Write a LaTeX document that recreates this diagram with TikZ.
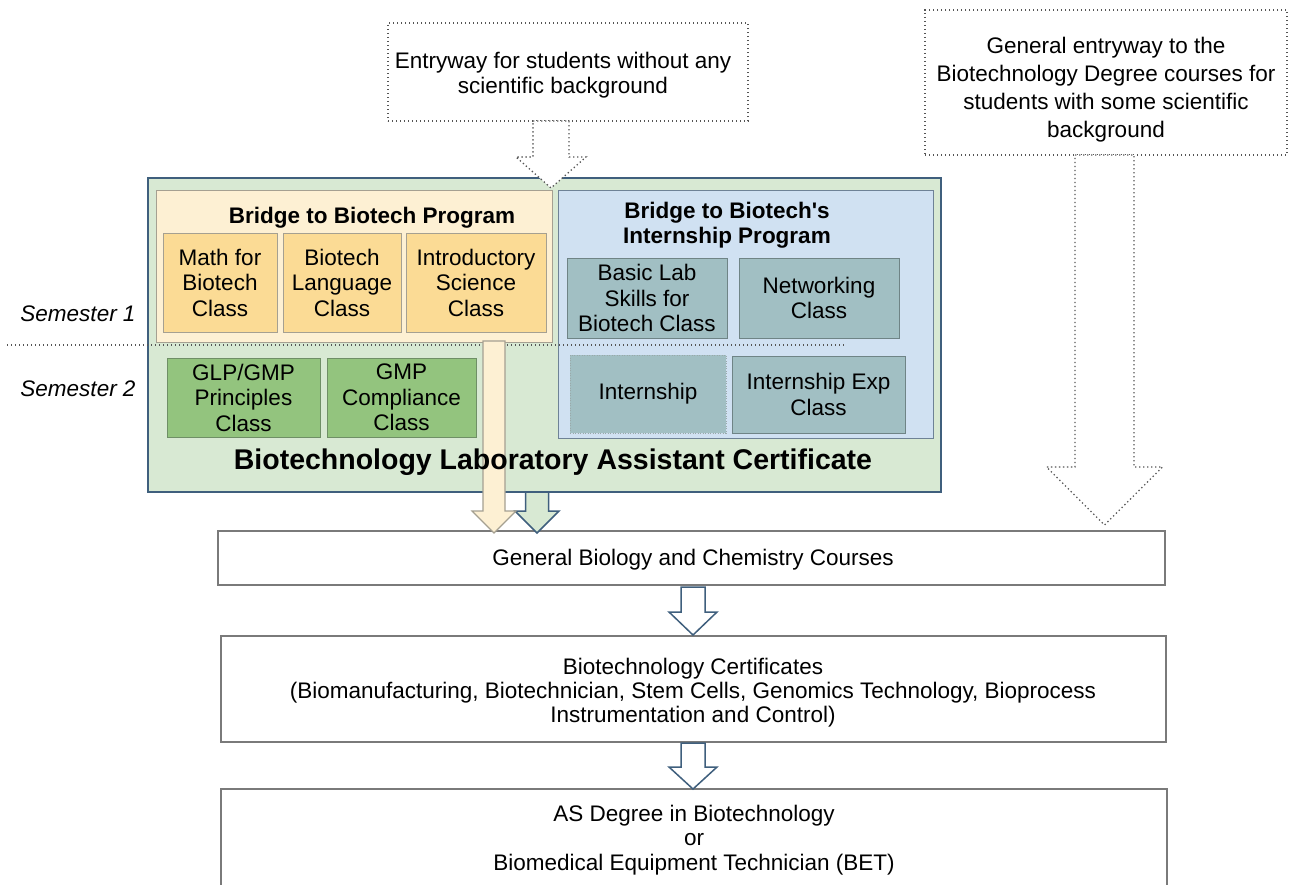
\documentclass[tikz,border=0pt]{standalone}
\usepackage{fontspec}
\setmainfont{Liberation Sans}[Ligatures=TeXOff]

\definecolor{certfill}{HTML}{D8E9D3}
\definecolor{certline}{HTML}{3F5F7D}
\definecolor{bridgefill}{HTML}{FDF0D3}
\definecolor{bridgeline}{HTML}{A5A091}
\definecolor{classyel}{HTML}{FBDB95}
\definecolor{internfill}{HTML}{D0E1F2}
\definecolor{internline}{HTML}{6E8296}
\definecolor{tealcls}{HTML}{A1BFC3}
\definecolor{tealline}{HTML}{6F8486}
\definecolor{grncls}{HTML}{93C47E}
\definecolor{grnline}{HTML}{6F8F66}
\definecolor{boxline}{HTML}{7A7A7A}
\definecolor{dotline}{HTML}{555555}

% block arrow: [style]{centre x}{top y}{neck y}{tip y}{shaft half width}{head half width}
\newcommand\blkarrow[7][]{%
  \draw[#1] ({#2-#6},#3) -- ({#2+#6},#3) -- ({#2+#6},#4) -- ({#2+#7},#4)
    -- (#2,#5) -- ({#2-#7},#4) -- ({#2-#6},#4) -- cycle;}

% rectangle node from its corners: [style]{name}{x1}{y1}{x2}{y2}{text}
\newcommand\cornerbox[7][]{%
  \node[#1, minimum width={(#5-#3)*1pt}, minimum height={(#6-#4)*1pt}]
    (#2) at ({(#3+#5)/2},{(#4+#6)/2}) {#7};}

\begin{document}
\begin{tikzpicture}[x=1pt,y=-1pt,
  every node/.style={font=\fontsize{22.5}{25.5}\selectfont, align=center, inner sep=0pt, outer sep=0pt},
  dotbox/.style={draw=dotline, line width=1.3pt, dash pattern=on 1.3pt off 2.7pt, fill=white},
  course/.style={draw=boxline, line width=1.5pt, fill=white},
  cert/.style={draw=certline, line width=1.6pt, fill=certfill},
  bridge/.style={draw=bridgeline, line width=1pt, fill=bridgefill},
  yelcls/.style={draw=bridgeline, line width=1pt, fill=classyel},
  intern/.style={draw=internline, line width=1pt, fill=internfill},
  tealbox/.style={draw=tealline, line width=1pt, fill=tealcls},
  grnbox/.style={draw=grnline, line width=1pt, fill=grncls},
  title/.style={font=\fontsize{22.5}{25.5}\selectfont\bfseries},
  semlabel/.style={font=\fontsize{22.5}{25.5}\selectfont\itshape},
  whitearrow/.style={draw=certline, line width=1.5pt, fill=white, line join=miter},
  dotarrow/.style={draw=dotline, line width=1.3pt, dash pattern=on 1.3pt off 2.7pt, fill=white},
]
\clip (0,0) rectangle (1289,884);
\useasboundingbox (0,0) rectangle (1289,884);

% entryway boxes
\cornerbox[dotbox]{entry}{388}{23}{748}{121}{}
\node (entrytxt) at (563,75) {Entryway for students without any\\scientific background};
\cornerbox[dotbox]{genentry}{925}{10}{1287}{155}{}
\node[font=\fontsize{22.5}{28}\selectfont] (genentrytxt) at (1106,90)
  {General entryway to the\\Biotechnology Degree courses for\\students with some scientific\\background};

% course sequence boxes
\cornerbox[course]{gbio}{218}{531}{1165}{585}{}
\node (gbiotxt) at (693,560) {General Biology and Chemistry Courses};
\cornerbox[course]{certs}{221}{636}{1166}{742}{}
\node[font=\fontsize{22.5}{24}\selectfont] (certstxt) at (693,693)
  {Biotechnology Certificates\\(Biomanufacturing, Biotechnician, Stem Cells, Genomics Technology, Bioprocess\\Instrumentation and Control)};
\cornerbox[course]{asdeg}{221}{789}{1167}{889}{}
\node[font=\fontsize{22.5}{24.5}\selectfont] (asdegtxt) at (694,840)
  {AS Degree in Biotechnology\\or\\Biomedical Equipment Technician (BET)};

% direct route for students with a scientific background
\blkarrow[dotarrow]{1104.5}{155}{467}{525}{29.5}{58}

% laboratory assistant certificate
\cornerbox[cert]{bla}{148}{178}{941}{492}{}

% bridge to biotech program
\cornerbox[bridge]{bridge}{156}{190}{552}{342}{}
\node[title] (bridgetitle) at (372,218) {Bridge to Biotech Program};
\cornerbox[yelcls]{math}{163}{233}{277}{332}{Math for\\Biotech\\Class}
\cornerbox[yelcls]{lang}{283}{233}{401}{332}{Biotech\\Language\\Class}
\cornerbox[yelcls]{intro}{406}{233}{546}{332}{Introductory\\Science\\Class}

% internship program
\cornerbox[intern]{intprog}{558}{190}{933}{438}{}
\node[title] (inttitle) at (727,225) {Bridge to Biotech's\\Internship Program};
\cornerbox[tealbox]{lab}{567}{258}{727}{338}{Basic Lab\\Skills for\\Biotech Class}
\cornerbox[tealbox]{netw}{739}{258}{899}{338}{Networking\\Class}
\cornerbox[tealbox, draw=tealline!70, line width=0.8pt, dash pattern=on 1pt off 1.5pt]{intern}{570}{355}{726}{433}{Internship}
\cornerbox[tealbox]{intexp}{732}{356}{905}{433}{Internship Exp\\Class}

% second semester classes
\cornerbox[grnbox]{glp}{167}{358}{320}{437}{GLP/GMP\\Principles\\Class}
\cornerbox[grnbox]{gmp}{327}{358}{476}{437}{GMP\\Compliance\\Class}

% semester divider and labels
\coordinate (divl) at (7,345);
\coordinate (divr) at (845,345);
\draw[dotline, line width=1.3pt, dash pattern=on 1.3pt off 2.7pt] (divl) -- (divr);
\node[semlabel] (sem1) at (78,314) {Semester 1};
\node[semlabel] (sem2) at (78,389) {Semester 2};

% entry route into the bridge program
\blkarrow[dotarrow]{551}{121}{157}{188}{18}{35}

% routes out of the certificate
\blkarrow[draw=certline, line width=1.5pt, fill=certfill]{537}{492}{511}{533}{11.5}{22}
\blkarrow[draw=bridgeline, line width=1.2pt, fill=bridgefill]{494}{341}{511}{533}{11}{22}

\node[font=\fontsize{28.5}{32}\selectfont\bfseries] (blatitle) at (553,462)
  {Biotechnology Laboratory Assistant Certificate};

% progression arrows
\blkarrow[whitearrow]{693}{587}{612}{635}{12}{24}
\blkarrow[whitearrow]{693}{743}{767}{789}{12}{24}
\end{tikzpicture}
\end{document}
